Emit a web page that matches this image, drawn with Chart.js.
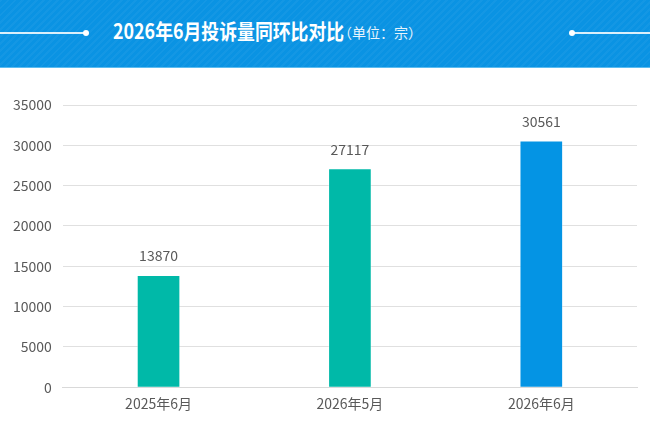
<!DOCTYPE html>
<html>
<head>
<meta charset="utf-8">
<script src="https://cdn.jsdelivr.net/npm/chart.js@4"></script>
<style>
  html, body { margin: 0; padding: 0; background: #fff; }
  body { width: 650px; height: 427px; overflow: hidden; position: relative; font-family: "Noto Sans CJK SC", sans-serif; }
  #banner {
    position: absolute; left: 0; top: 0; width: 650px; height: 67px;
    background-color: #0a93e3;
    background-image: repeating-linear-gradient(135deg, rgba(255,255,255,0.04) 0 2px, rgba(0,0,0,0) 2px 5px);
    border-bottom: 1px solid #5cbcf0;
  }
  .line { position: absolute; top: 32px; height: 2px; background: rgba(255,255,255,0.85); }
  .dot { position: absolute; top: 30px; width: 6px; height: 6px; border-radius: 50%; background: #fff; }
  #title { position: absolute; left: 113px; top: 15px; color: #fff; white-space: nowrap;
           font-size: 21px; font-weight: bold; transform: scaleX(0.85); transform-origin: left center; }
  #unit { position: absolute; left: 338px; top: 22px; color: #e8f4fc; white-space: nowrap; font-size: 14px; }
  #wrap { position: absolute; left: 0; top: 68px; width: 650px; height: 359px; }
</style>
</head>
<body>
<div id="banner">
  <div class="line" style="left:0;width:86px"></div>
  <div class="dot" style="left:83px"></div>
  <div class="line" style="left:573px;width:77px"></div>
  <div class="dot" style="left:569px"></div>
  <div id="title">2026年6月投诉量同环比对比</div>
  <div id="unit">（单位：宗）</div>
</div>
<div id="wrap"><canvas id="barChart"></canvas></div>
<script>
// 数据
let months = ["2025年6月", "2026年5月", "2026年6月"];
let amounts = [13870, 27117, 30561];
let barColors = ["#00b9a8", "#00b9a8", "#0494e4"];
let yTicks = [0, 5000, 10000, 15000, 20000, 25000, 30000, 35000];

// 柱子上面的数字
let valueLabels = {
  id: "valueLabels",
  afterDatasetsDraw: function (chart) {
    let ctx = chart.ctx;
    let meta = chart.getDatasetMeta(0);
    ctx.save();
    ctx.font = "14px 'Noto Sans CJK SC'";
    ctx.fillStyle = "#595959";
    ctx.textAlign = "center";
    ctx.textBaseline = "alphabetic";
    meta.data.forEach(function (bar, i) {
      ctx.fillText(chart.data.datasets[0].data[i], bar.x, bar.y - 14);
    });
    ctx.restore();
  }
};

let chartOne = document.getElementById("barChart").getContext("2d");
new Chart(chartOne, {
  type: "bar",
  data: {
    labels: months,
    datasets: [
      {
        data: amounts,
        backgroundColor: barColors,
        borderColor: "rgba(255,255,255,0.35)",
        borderWidth: 1,
        barThickness: 43
      }
    ]
  },
  plugins: [valueLabels],
  options: {
    responsive: true,
    maintainAspectRatio: false,
    animation: false,
    layout: { padding: { left: 2, right: 13, top: 37, bottom: 7 } },
    plugins: {
      legend: { display: false },
      tooltip: { enabled: false }
    },
    scales: {
      x: {
        grid: { display: false, drawTicks: false },
        border: { color: "#d9d9d9" },
        ticks: {
          color: "#595959",
          padding: 8,
          font: { size: 14, family: "'Noto Sans CJK SC'" }
        }
      },
      y: {
        min: yTicks[0],
        max: yTicks[yTicks.length - 1],
        afterBuildTicks: function (axis) {
          axis.ticks = yTicks.map(function (v) { return { value: v }; });
        },
        grid: { color: "#e0e0e0", drawTicks: false },
        border: { display: false },
        ticks: {
          color: "#595959",
          padding: 11,
          font: { size: 14, family: "'Noto Sans CJK SC'" },
          callback: function (v) { return String(v); }
        }
      }
    }
  }
});
</script>
</body>
</html>
